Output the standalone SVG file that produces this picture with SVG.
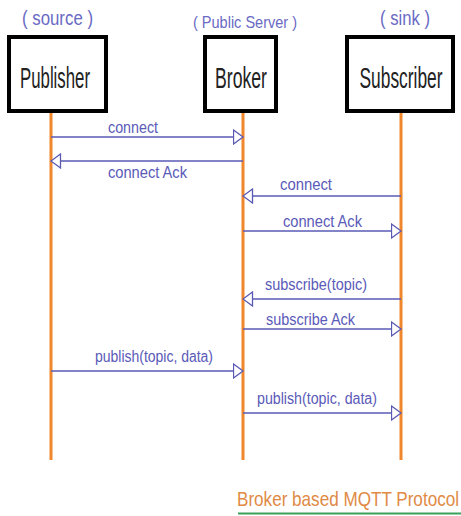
<svg xmlns="http://www.w3.org/2000/svg" width="461" height="516" viewBox="0 0 461 516">
<defs>
<style>
.role{font-family:"Liberation Sans",Arial,sans-serif;fill:#6a6ac4;}
.name{font-family:"Liberation Sans",Arial,sans-serif;font-size:16px;fill:#222;text-anchor:middle;}
.box{fill:#fff;stroke:#000;stroke-width:4;}
.life{stroke:#f0872c;stroke-width:3;fill:none;}
.msg{stroke:#5a5ab4;stroke-width:1.3;fill:none;marker-end:url(#open);}
.lbl{font-family:"Liberation Sans",Arial,sans-serif;font-size:16px;fill:#5a5ab8;}
.foot{font-family:"Liberation Sans",Arial,sans-serif;font-size:17px;fill:#e08a45;}
</style>
<marker id="open" markerUnits="userSpaceOnUse" markerWidth="12" markerHeight="16" refX="10.5" refY="8" orient="auto">
<path d="M1,1 L10.5,8 L1,15 Z" fill="#fff" stroke="#5a5ab4" stroke-width="1.3"/>
</marker>
</defs>
<rect width="461" height="516" fill="#fff"/>
<g id="lifelines">
<line class="life" x1="51" y1="113" x2="51" y2="460"/>
<line class="life" x1="243" y1="113" x2="243" y2="460"/>
<line class="life" x1="401" y1="113" x2="401" y2="460"/>
</g>
<g id="publisher">
<text class="role" x="22" y="25" font-size="20" textLength="71" lengthAdjust="spacingAndGlyphs">( source )</text>
<rect class="box" x="9" y="37" width="97" height="74"/>
<text class="name" transform="translate(55,88) scale(1,1.9)" textLength="70" lengthAdjust="spacingAndGlyphs">Publisher</text>
</g>
<g id="broker">
<text class="role" x="193" y="28" font-size="17" textLength="104" lengthAdjust="spacingAndGlyphs">( Public Server )</text>
<rect class="box" x="205" y="37" width="71" height="74"/>
<text class="name" transform="translate(241,88) scale(1,1.9)" textLength="52" lengthAdjust="spacingAndGlyphs">Broker</text>
</g>
<g id="subscriber">
<text class="role" x="380" y="25" font-size="20" textLength="50" lengthAdjust="spacingAndGlyphs">( sink )</text>
<rect class="box" x="347" y="37" width="106" height="74"/>
<text class="name" transform="translate(401,88) scale(1,1.9)" textLength="83" lengthAdjust="spacingAndGlyphs">Subscriber</text>
</g>
<g id="connectors">
<line class="msg" x1="51" y1="137" x2="243" y2="137"/>
<text class="lbl" x="108" y="133" textLength="50" lengthAdjust="spacingAndGlyphs">connect</text>
<line class="msg" x1="243" y1="161" x2="51" y2="161"/>
<text class="lbl" x="108" y="178" textLength="79" lengthAdjust="spacingAndGlyphs">connect Ack</text>
<line class="msg" x1="401" y1="196" x2="243" y2="196"/>
<text class="lbl" x="280" y="190" textLength="52" lengthAdjust="spacingAndGlyphs">connect</text>
<line class="msg" x1="243" y1="231" x2="401" y2="231"/>
<text class="lbl" x="283" y="227" textLength="79" lengthAdjust="spacingAndGlyphs">connect Ack</text>
<line class="msg" x1="401" y1="299" x2="243" y2="299"/>
<text class="lbl" x="265" y="290" textLength="102" lengthAdjust="spacingAndGlyphs">subscribe(topic)</text>
<line class="msg" x1="243" y1="329" x2="401" y2="329"/>
<text class="lbl" x="266" y="325" textLength="89" lengthAdjust="spacingAndGlyphs">subscribe Ack</text>
<line class="msg" x1="51" y1="371" x2="243" y2="371"/>
<text class="lbl" x="95" y="362" textLength="118" lengthAdjust="spacingAndGlyphs">publish(topic, data)</text>
<line class="msg" x1="243" y1="413" x2="401" y2="413"/>
<text class="lbl" x="257" y="404" textLength="120" lengthAdjust="spacingAndGlyphs">publish(topic, data)</text>
</g>
<g id="caption">
<text class="foot" transform="translate(237,506) scale(1,1.24)" textLength="222" lengthAdjust="spacingAndGlyphs">Broker based MQTT Protocol</text>
<line x1="238" y1="513.5" x2="461" y2="513.5" stroke="#3aa05a" stroke-width="2"/>
</g>
</svg>
